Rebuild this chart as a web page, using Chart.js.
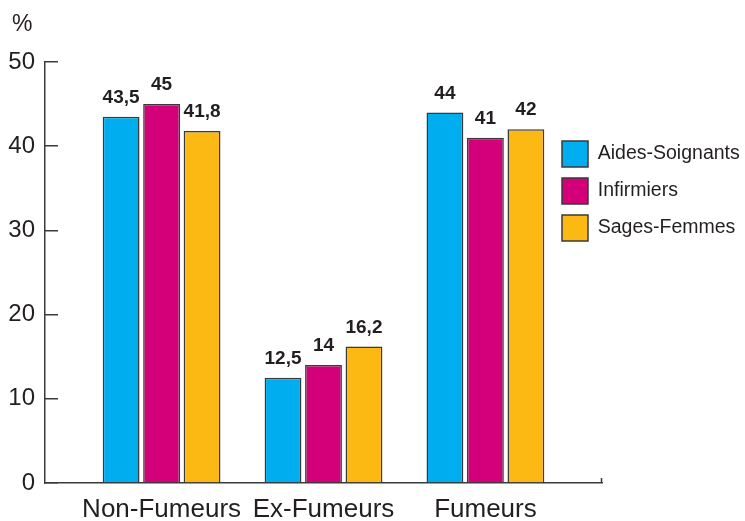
<!DOCTYPE html>
<html>
<head>
<meta charset="utf-8">
<script src="https://cdn.jsdelivr.net/npm/chart.js@4/dist/chart.umd.min.js"></script>
<style>
  body { margin: 0; background: #fff; }
  #graf { display: block; }
</style>
</head>
<body>
<canvas id="graf" width="745" height="521"></canvas>
<script>
// données
const categories = ['Non-Fumeurs', 'Ex-Fumeurs', 'Fumeurs'];
const aidesSoignants = [43.5, 12.5, 44];
const infirmiers = [45, 14, 41];
const sagesFemmes = [41.8, 16.2, 42];
const yTicks = [0, 10, 20, 30, 40, 50];
const unite = '%';

const police = 'Liberation Sans, Arial, Helvetica, sans-serif';
const texte = '#231f20';
const trait = '#3a3a3a';

function serie(valeurs) {
    return valeurs.map((v, i) => ({ x: i, y: v }));
}

// étiquettes de valeurs au-dessus des barres, unité en haut de l'axe
const etiquettes = {
    id: 'etiquettes',
    afterDatasetsDraw(chart) {
        const ctx = chart.ctx;
        const a = chart.chartArea;
        ctx.save();
        ctx.font = 'bold 19px ' + police;
        ctx.fillStyle = texte;
        ctx.textAlign = 'center';
        ctx.textBaseline = 'alphabetic';
        chart.data.datasets.forEach((ds, d) => {
            chart.getDatasetMeta(d).data.forEach((bar, i) => {
                const v = ds.data[i].y;
                ctx.fillText(String(v).replace('.', ','), bar.x, bar.y - 14);
            });
        });
        // unité
        ctx.font = '23px ' + police;
        ctx.textAlign = 'left';
        ctx.textBaseline = 'middle';
        ctx.fillText(unite, a.left - 33, a.top - 37);
        // petit trait au bout de l'axe des x
        ctx.strokeStyle = trait;
        ctx.lineWidth = 1.5;
        ctx.beginPath();
        ctx.moveTo(a.right - 0.5, a.bottom);
        ctx.lineTo(a.right - 0.5, a.bottom - 5);
        ctx.stroke();
        ctx.restore();
    }
};

// place la légende à droite, par-dessus la zone libre
const placeLegende = {
    id: 'placeLegende',
    afterLayout(chart) {
        const lg = chart.legend;
        lg.left = 551;
        lg.top = 130;
        lg.right = 745;
        lg.bottom = 360;
        lg.width = lg.right - lg.left;
        lg.height = lg.bottom - lg.top;
    }
};

new Chart(document.getElementById('graf'), {
    type: 'bar',
    data: {
        datasets: [{
            label: 'Aides-Soignants',
            data: serie(aidesSoignants),
            backgroundColor: '#00aeef',
            borderColor: trait,
            borderWidth: 1.5
        }, {
            label: 'Infirmiers',
            data: serie(infirmiers),
            backgroundColor: '#d4007a',
            borderColor: trait,
            borderWidth: 1.5
        }, {
            label: 'Sages-Femmes',
            data: serie(sagesFemmes),
            backgroundColor: '#fdb913',
            borderColor: trait,
            borderWidth: 1.5
        }]
    },
    options: {
        responsive: false,
        animation: false,
        devicePixelRatio: 1,
        categoryPercentage: 0.75,
        barPercentage: 0.91,
        layout: { padding: { left: 0, right: 143, top: 62, bottom: 0 } },
        plugins: {
            title: { display: false },
            legend: {
                position: 'chartArea',
                align: 'start',
                labels: {
                    boxWidth: 26,
                    boxHeight: 26,
                    padding: 11,
                    color: texte,
                    font: { family: police, size: 19.5 }
                }
            },
            tooltip: { enabled: false }
        },
        scales: {
            x: {
                type: 'linear',
                offset: false,
                min: -0.72,
                max: 2.72,
                afterFit: s => { s.height = 38; },
                grid: { display: false, drawTicks: false, offset: false },
                border: { display: true, color: trait, width: 1.5 },
                ticks: {
                    stepSize: 1,
                    includeBounds: false,
                    autoSkip: false,
                    maxRotation: 0,
                    padding: 11,
                    color: texte,
                    font: { family: police, size: 26 },
                    callback: v => categories[v] ?? ''
                }
            },
            y: {
                min: 0,
                max: 50,
                afterFit: s => { s.width = 45; },
                afterBuildTicks: s => { s.ticks = yTicks.map(v => ({ value: v })); },
                grid: {
                    display: true,
                    drawOnChartArea: false,
                    drawTicks: true,
                    tickLength: -13,
                    color: trait,
                    lineWidth: 1.5
                },
                border: { display: true, color: trait, width: 1.5 },
                ticks: {
                    padding: 23,
                    color: texte,
                    font: { family: police, size: 24 }
                }
            }
        }
    },
    plugins: [etiquettes, placeLegende]
});
</script>
</body>
</html>
